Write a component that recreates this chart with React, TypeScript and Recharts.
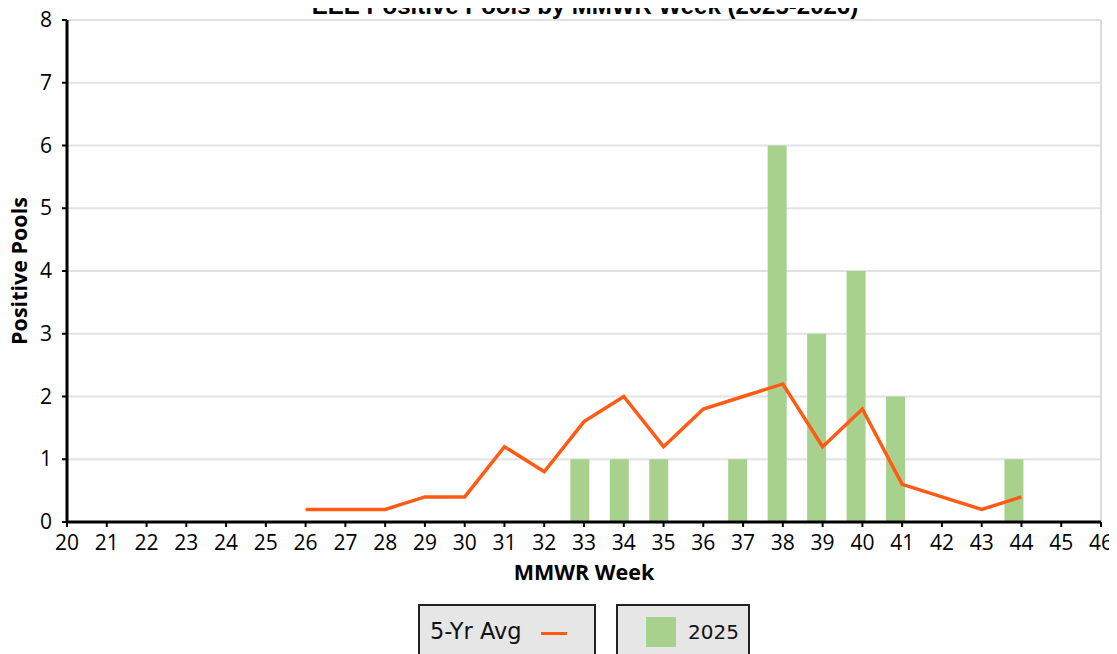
import React from 'react';
import {
  ComposedChart,
  Bar,
  Line,
  XAxis,
  YAxis,
  CartesianGrid,
  ReferenceLine,
} from 'recharts';

const WEEKS = [20, 21, 22, 23, 24, 25, 26, 27, 28, 29, 30, 31, 32, 33, 34, 35, 36, 37, 38, 39, 40, 41, 42, 43, 44, 45, 46];
const AVG_5YR = [null, null, null, null, null, null, 0.2, 0.2, 0.2, 0.4, 0.4, 1.2, 0.8, 1.6, 2.0, 1.2, 1.8, 2.0, 2.2, 1.2, 1.8, 0.6, 0.4, 0.2, 0.4, null, null];
const POS_2025 = [null, null, null, null, null, null, null, null, null, null, null, null, null, 1, 1, 1, null, 1, 6, 3, 4, 2, null, null, 1, null, null];
const Y_TICKS = [0, 1, 2, 3, 4, 5, 6, 7, 8];

const ORANGE = '#ff5b14';
const GREEN = '#a9d18e';
const FONT = '"Open Sans", sans-serif';

const chartData = WEEKS.map((week, i) => ({ week, avg: AVG_5YR[i], y2025: POS_2025[i] }));

// tick renderers so the font size is applied for sure
const XTick = (props: any) => (
  <text x={props.x} y={props.y} dy={21} textAnchor="middle" fill="#000" fontSize={21} fontFamily={FONT}>
    {props.payload.value}
  </text>
);

const YTick = (props: any) => (
  <text x={props.x} y={props.y} dx={-8} dy={7} textAnchor="end" fill="#000" fontSize={21} fontFamily={FONT}>
    {props.payload.value}
  </text>
);

export default function App() {
  return (
    <div style={{ position: 'relative', width: 1117, height: 654, margin: '-8px 0 0 -8px', background: '#fff', overflow: 'hidden' }}>
      <div
        style={{
          position: 'absolute',
          top: -8,
          left: 0,
          width: 1170,
          textAlign: 'center',
          fontFamily: 'Arial, "Liberation Sans", sans-serif',
          fontWeight: 700,
          fontSize: 24,
          lineHeight: '28px',
          color: '#000',
          zIndex: 2,
        }}
      >
        EEE Positive Pools by MMWR Week (2025-2026)
      </div>
      <ComposedChart width={1117} height={654} data={chartData} margin={{ top: 20, right: 16, bottom: 0, left: 0 }}>
        <CartesianGrid vertical={false} stroke="#e2e2e2" strokeWidth={2} />
        <ReferenceLine x={46} stroke="#dcdcdc" strokeWidth={2} />
        <XAxis
          dataKey="week"
          type="number"
          domain={[20, 46]}
          ticks={WEEKS}
          interval={0}
          height={132}
          axisLine={{ stroke: '#000', strokeWidth: 3 }}
          tickLine={{ stroke: '#000', strokeWidth: 2 }}
          tickSize={5}
          tickMargin={2}
          tick={XTick}
          label={{ value: 'MMWR Week', position: 'insideTop', dy: 38, fill: '#000', fontSize: 21.5, fontWeight: 700, fontFamily: FONT }}
        />
        <XAxis xAxisId="bars" dataKey="week" type="number" domain={[20.2, 46.2]} hide />
        <YAxis
          domain={[0, 8]}
          ticks={Y_TICKS}
          width={67}
          axisLine={{ stroke: '#000', strokeWidth: 3 }}
          tickLine={{ stroke: '#000', strokeWidth: 2 }}
          tickSize={5}
          tickMargin={2}
          tick={YTick}
          label={{ value: 'Positive Pools', angle: -90, position: 'insideLeft', dx: 14, fill: '#000', fontSize: 21.5, fontWeight: 700, fontFamily: FONT, style: { textAnchor: 'middle' } }}
        />
        <Bar xAxisId="bars" dataKey="y2025" fill={GREEN} barSize={19} isAnimationActive={false} />
        <Line dataKey="avg" stroke={ORANGE} strokeWidth={3.5} dot={false} isAnimationActive={false} />
      </ComposedChart>
      <div
        style={{
          position: 'absolute', left: 418, top: 604, width: 178, height: 60,
          background: '#e6e6e6', border: '2px solid #222', boxSizing: 'border-box',
          fontFamily: '"DejaVu Sans", sans-serif', fontSize: 22.5, color: '#111',
        }}
      >
        <span style={{ position: 'absolute', left: 10, top: 12 }}>5-Yr Avg</span>
        <span style={{ position: 'absolute', left: 121, top: 26, width: 26, height: 3, background: ORANGE }} />
      </div>
      <div
        style={{
          position: 'absolute', left: 616, top: 604, width: 134, height: 60,
          background: '#e6e6e6', border: '2px solid #222', boxSizing: 'border-box',
          fontFamily: '"DejaVu Sans", sans-serif', fontSize: 20, color: '#111',
        }}
      >
        <span style={{ position: 'absolute', left: 28, top: 11, width: 30, height: 30, background: GREEN }} />
        <span style={{ position: 'absolute', left: 70, top: 14 }}>2025</span>
      </div>
    </div>
  );
}
